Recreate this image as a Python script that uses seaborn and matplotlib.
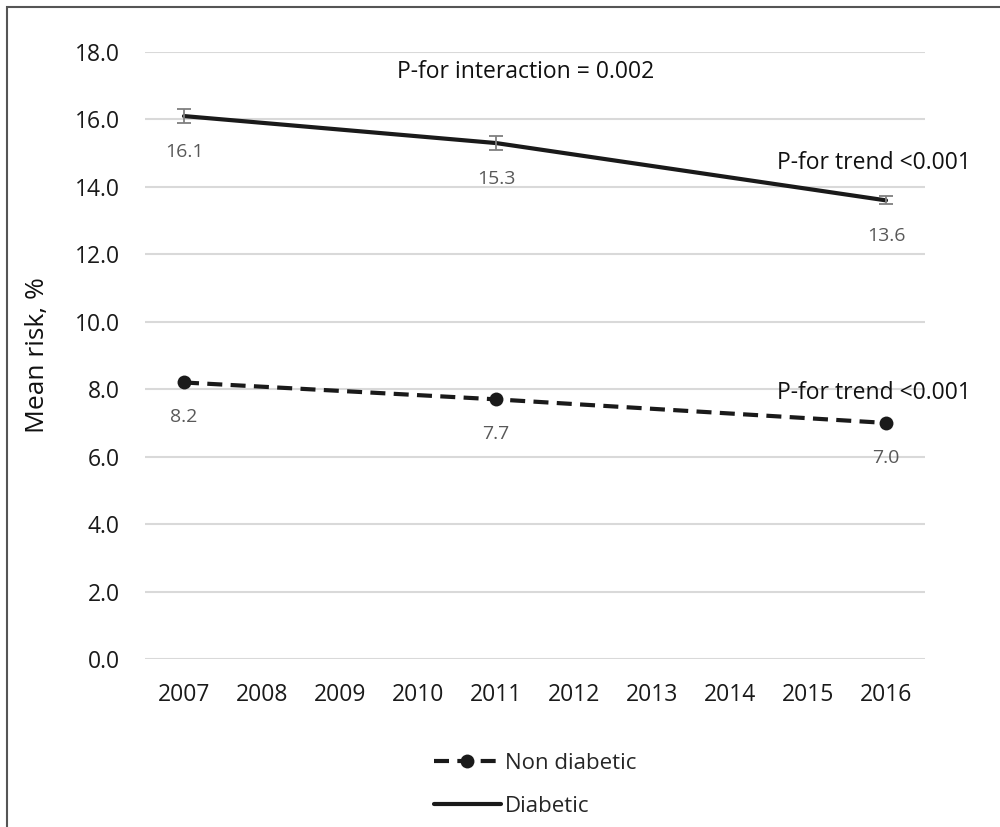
import pandas as pd
import matplotlib.pyplot as plt
import matplotlib.patches as mpatches
from matplotlib.lines import Line2D
import seaborn as sns

years = [2007, 2008, 2009, 2010, 2011, 2012, 2013, 2014, 2015, 2016]
survey_years = [2007, 2011, 2016]
non_diabetic = [8.2, 7.7, 7.0]
diabetic = [16.1, 15.3, 13.6]
diabetic_err = [0.22, 0.22, 0.12]
trend_labels = ['P-for trend <0.001', 'P-for trend <0.001']
interaction_label = 'P-for interaction = 0.002'

df = pd.DataFrame({
    'year': survey_years * 2,
    'risk': non_diabetic + diabetic,
    'group': ['Non diabetic'] * 3 + ['Diabetic'] * 3,
})

sns.set_style('white')
plt.rcParams['font.family'] = ['Open Sans', 'DejaVu Sans']

DASH = (0, (3.6, 2.0))

fig = plt.figure(figsize=(10, 8.27), dpi=100)
ax = fig.add_axes([0.145, 1 - 659 / 827, 0.78, 607 / 827])

# frame around the whole picture (right/bottom edges cut off in the original)
fig.patches.append(mpatches.Rectangle((0.007, -0.1), 1.2, 1.092, transform=fig.transFigure,
                                      fill=False, edgecolor='#555555', linewidth=1.5))

sns.lineplot(data=df[df.group == 'Non diabetic'], x='year', y='risk', ax=ax,
             color='#1a1a1a', linewidth=3.0, linestyle=DASH,
             marker='o', markersize=10, markeredgewidth=0, zorder=3)
sns.lineplot(data=df[df.group == 'Diabetic'], x='year', y='risk', ax=ax,
             color='#1a1a1a', linewidth=3.0, zorder=3)
ax.errorbar(survey_years, diabetic, yerr=diabetic_err, fmt='none',
            ecolor='#7f7f7f', elinewidth=1.3, capsize=5, capthick=1.3, zorder=4)

for x, y in zip(survey_years, diabetic):
    ax.annotate(f'{y:.1f}', (x, y), xytext=(0, -26), textcoords='offset points',
                ha='center', va='center', fontsize=14, color='#595959')
for x, y in zip(survey_years, non_diabetic):
    ax.annotate(f'{y:.1f}', (x, y), xytext=(0, -25), textcoords='offset points',
                ha='center', va='center', fontsize=14, color='#595959')

ax.text(2014.6, 14.7, trend_labels[0], fontsize=16.5, color='#111111', va='center', ha='left')
ax.text(2014.6, 7.9, trend_labels[1], fontsize=16.5, color='#111111', va='center', ha='left')
ax.text(2011.38, 17.4, interaction_label, fontsize=16.5, color='#111111', va='center', ha='center')

ax.set_xlim(2006.5, 2016.5)
ax.set_ylim(0, 18)
ax.set_xticks(years)
ax.set_yticks(range(0, 19, 2))
ax.set_yticklabels([f'{v:.1f}' for v in range(0, 19, 2)])
ax.grid(axis='y', color='#d9d9d9', linewidth=1.5)
ax.grid(axis='x', visible=False)
sns.despine(ax=ax, left=True, bottom=True)
ax.tick_params(axis='both', length=0, labelsize=16.5, labelcolor='#1a1a1a')
ax.tick_params(axis='y', pad=18)
ax.tick_params(axis='x', pad=17)
ax.set_xlabel('')
ax.set_ylabel('Mean risk, %', fontsize=19, color='#111111', labelpad=18)

handles = [
    Line2D([], [], color='#1a1a1a', linewidth=3.0, linestyle=DASH,
           marker='o', markersize=10, markeredgewidth=0),
    Line2D([], [], color='#1a1a1a', linewidth=3.0),
]
fig.legend(handles, ['Non diabetic', 'Diabetic'], loc='upper left',
           bbox_to_anchor=(0.414, 0.114), frameon=False, fontsize=16,
           handlelength=3.0, handletextpad=0.2, labelspacing=1.0)
if ax.get_legend():
    ax.get_legend().remove()

fig.savefig('out.png', dpi=100)
